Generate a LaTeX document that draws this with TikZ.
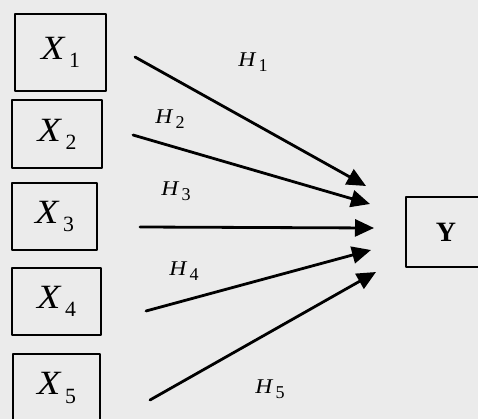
\documentclass[tikz,border=0pt]{standalone}
\usepackage{fontspec}
\setmainfont{Liberation Serif}
\usetikzlibrary{arrows.meta,positioning}

% letter, index, size of index
\newcommand{\var}[3]{\scalebox{1.12}[1]{\textit{#1}}\kern0.1em\raisebox{-0.24em}{\scalebox{#3}{#2}}}

\tikzset{
  varbox/.style={draw,line width=2pt,inner sep=0pt,font=\fontsize{34}{38}\selectfont},
  effect/.style={line width=2.8pt,-{Triangle[length=19pt,width=17pt]}},
  hyp/.style={font=\fontsize{21}{25}\selectfont}
}

\begin{document}
\begin{tikzpicture}[x=1pt,y=-1pt,line join=round,line cap=round]
      \clip (0,0) rectangle (478,419);
      \fill[black!8] (0,0) rectangle (478,419);

      % independent variables
      \node[varbox,minimum width=91pt,minimum height=77pt] (x1) at (60.5,52.5) {\var{X}{1}{0.64}};
      \node[varbox,minimum width=90pt,minimum height=68pt] (x2) at (57,134) {\var{X}{2}{0.64}};
      \node[varbox,minimum width=85pt,minimum height=67pt] (x3) at (54.5,216.5) {\var{X}{3}{0.64}};
      \node[varbox,minimum width=89pt,minimum height=67pt] (x4) at (56.5,301.5) {\var{X}{4}{0.64}};
      \node[varbox,minimum width=87pt,minimum height=68pt] (x5) at (56.5,388) {\var{X}{5}{0.64}};

      % dependent variable
      \node[varbox,minimum width=80pt,minimum height=70pt,font=\fontsize{28}{32}\selectfont\bfseries] (y) at (446,232) {Y};

      \coordinate (s1) at (135,57);
      \coordinate (s2) at (133,135);
      \coordinate (s3) at (140,227);
      \coordinate (s4) at (146,311);
      \coordinate (s5) at (150,400);

      \coordinate (e1) at (366,186);
      \coordinate (e2) at (370,204);
      \coordinate (e3) at (374,228);
      \coordinate (e4) at (371,250);
      \coordinate (e5) at (376,272);

      \draw[effect] (s1) -- (e1);
      \draw[effect] (s2) -- (e2);
      \draw[effect] (s3) -- (e3);
      \draw[effect] (s4) -- (e4);
      \draw[effect] (s5) -- (e5);

      \node[hyp] (h1) at (253,62) {\var{H}{1}{0.86}};
      \node[hyp] (h2) at (170,119) {\var{H}{2}{0.86}};
      \node[hyp] (h3) at (176,191) {\var{H}{3}{0.86}};
      \node[hyp] (h4) at (184,271) {\var{H}{4}{0.86}};
      \node[hyp] (h5) at (270,389) {\var{H}{5}{0.86}};
    \end{tikzpicture}
\end{document}
